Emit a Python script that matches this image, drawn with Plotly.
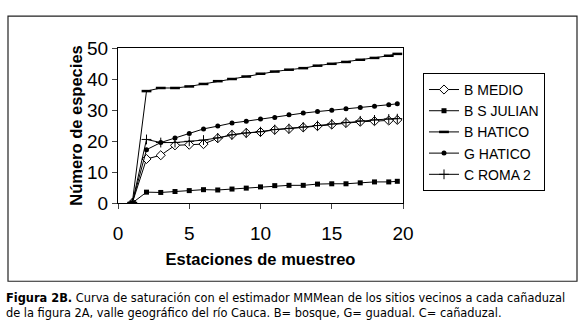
import plotly.graph_objects as go

x = [1, 2, 3, 4, 5, 6, 7, 8, 9, 10, 11, 12, 13, 14, 15, 16, 17, 18, 19, 19.6]

b_medio = [0, 14.2, 15.4, 18.6, 18.8, 19.0, 20.9, 22.0, 22.6, 22.9, 23.6, 23.9, 24.4, 24.8,
           25.3, 25.8, 26.2, 26.4, 26.6, 26.8]
b_s_julian = [0, 3.5, 3.4, 3.7, 4.0, 4.3, 4.2, 4.5, 4.8, 5.2, 5.6, 5.7, 5.7, 6.1,
              6.2, 6.2, 6.5, 6.8, 6.8, 7.0]
b_hatico = [0, 36.1, 37.1, 37.1, 37.6, 38.4, 39.3, 40.0, 40.8, 41.7, 42.4, 43.0, 43.5, 44.3,
            44.9, 45.5, 46.2, 46.8, 47.5, 48.1]
g_hatico = [0, 17.2, 19.5, 21.0, 22.4, 23.9, 24.8, 25.8, 26.4, 27.1, 27.6, 28.5, 29.0, 29.5,
            29.9, 30.4, 30.8, 31.2, 31.7, 32.0]
c_roma2 = [0, 20.5, 19.5, 19.5, 19.9, 20.3, 21.0, 22.0, 22.6, 23.0, 23.7, 24.0, 24.5, 25.0,
           25.5, 26.0, 26.5, 26.8, 27.1, 27.2]

series = [
    ("B MEDIO", b_medio, dict(symbol="diamond", size=7, color="white", line=dict(color="black", width=1))),
    ("B S JULIAN", b_s_julian, dict(symbol="square", size=5, color="black")),
    ("B HATICO", b_hatico, dict(symbol="line-ew", size=7, color="black", line=dict(color="black", width=2.5))),
    ("G HATICO", g_hatico, dict(symbol="circle", size=5, color="black")),
    ("C ROMA 2", c_roma2, dict(symbol="cross-thin", size=7, color="black", line=dict(color="black", width=1))),
]

fig = go.Figure()
for name, ys, mk in series:
    fig.add_trace(go.Scatter(x=x, y=ys, name=name, mode="lines+markers",
                             line=dict(color="black", width=1), marker=mk))

L, R, T, B = 118, 403, 48, 203.5
W, H = 580, 324
pw, ph = R - L, B - T


def px(v):
    return (v - L) / pw


def py(v):
    return (B - v) / ph


fig.update_layout(
    width=W, height=H,
    margin=dict(l=L, r=W - R, t=T, b=H - B, pad=0, autoexpand=False),
    paper_bgcolor="white", plot_bgcolor="white",
    font=dict(family="Liberation Sans, Arial, sans-serif", color="black"),
    showlegend=True,
    legend=dict(x=px(423), y=py(73), xanchor="left", yanchor="top",
                bordercolor="black", borderwidth=1, bgcolor="white",
                font=dict(size=14), itemwidth=30, tracegroupgap=0),
    xaxis=dict(range=[0, 20], tickvals=[0, 5, 10, 15, 20], ticks="outside", ticklen=5,
               showline=True, linecolor="black", linewidth=1, mirror=True, showgrid=False,
               zeroline=False, tickfont=dict(size=19), ticklabelstandoff=8,
               title=dict(text="<b>Estaciones de muestreo</b>", font=dict(size=16.5), standoff=10)),
    yaxis=dict(range=[0, 50], tickvals=[0, 10, 20, 30, 40, 50], ticks="outside", ticklen=5,
               showline=True, linecolor="black", linewidth=1, mirror=True, showgrid=False,
               zeroline=False, tickfont=dict(size=19),
               title=dict(text="<b>Número de especies</b>", font=dict(size=16.5), standoff=0)),
    shapes=[dict(type="rect", xref="paper", yref="paper",
                 x0=px(8), x1=px(577), y0=py(282), y1=py(16),
                 line=dict(color="#222", width=1.2), fillcolor="rgba(0,0,0,0)", layer="below")],
    annotations=[
        dict(xref="paper", yref="paper", x=px(4), y=py(290), xanchor="left", yanchor="top",
             showarrow=False, align="left",
             font=dict(family="DejaVu Sans, Verdana, sans-serif", size=11.4, color="black"),
             text="<b>Figura 2B.</b> Curva de saturación con el estimador MMMean de los sitios vecinos a cada cañaduzal"
                  "<br>de la figura 2A, valle geográfico del río Cauca. B= bosque, G= guadual. C= cañaduzal."),
    ],
)

fig.write_html("out.html", config={"displayModeBar": False},
               post_script="document.body.style.margin='0';")
